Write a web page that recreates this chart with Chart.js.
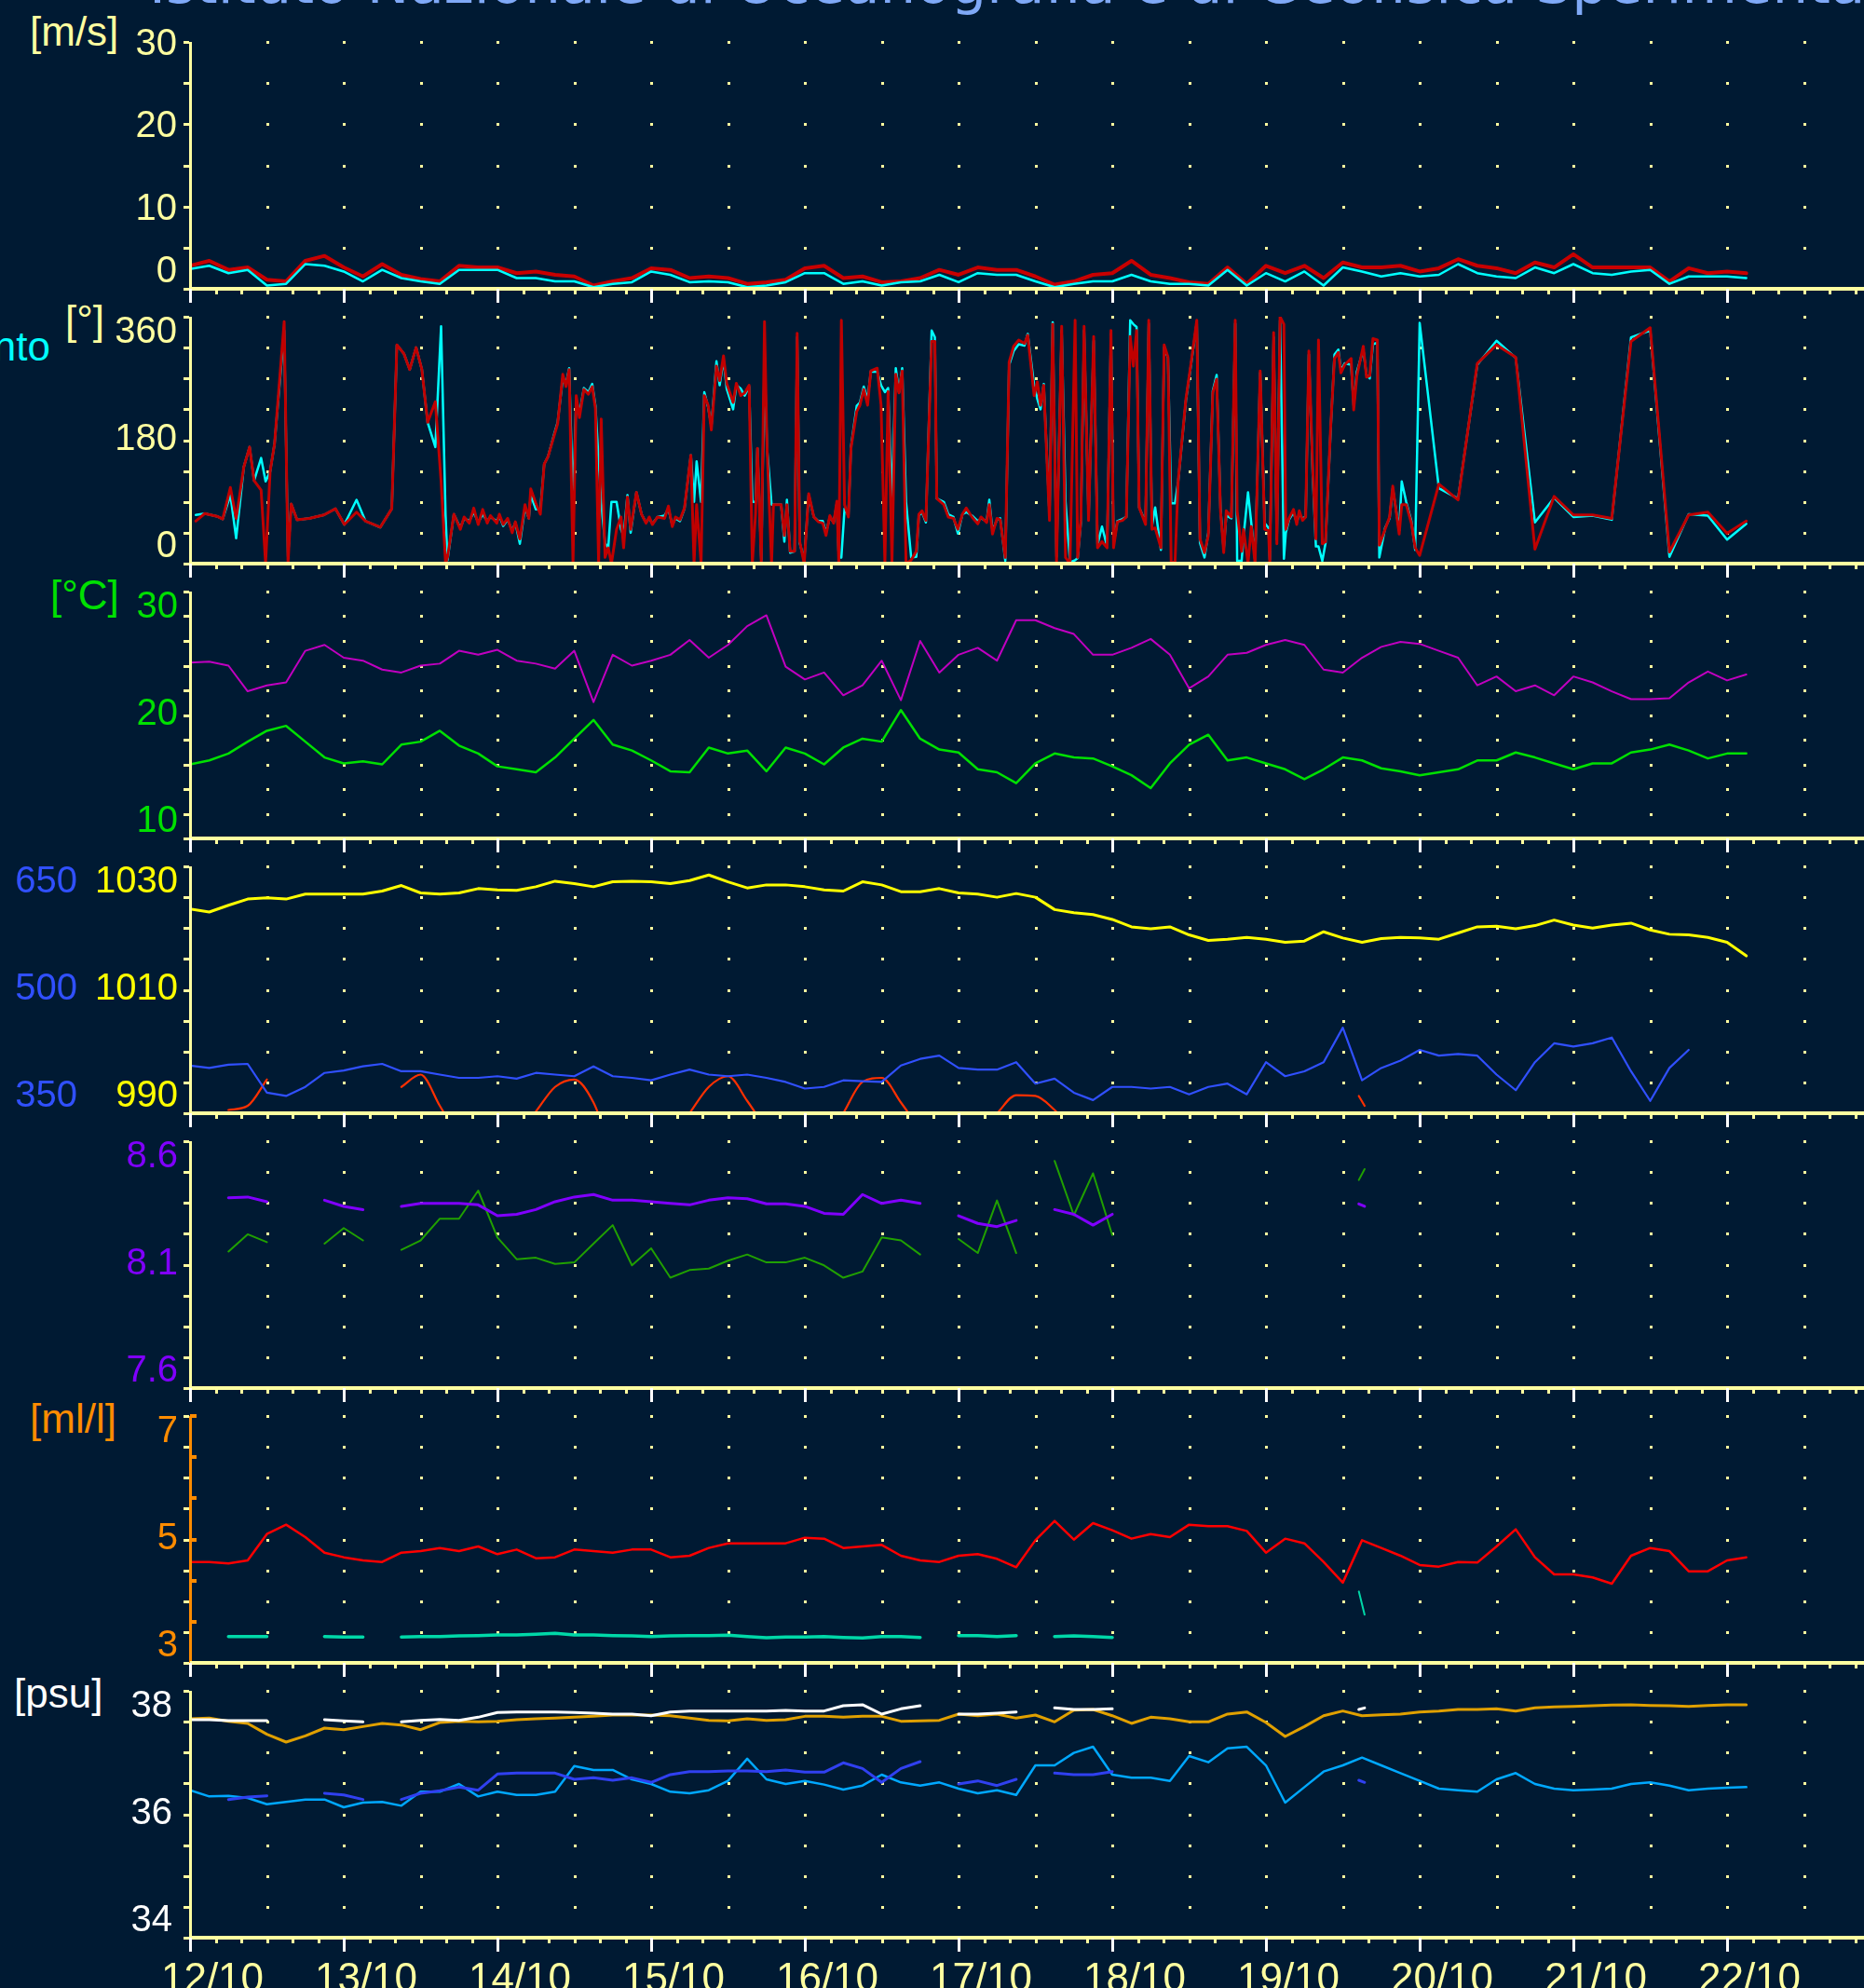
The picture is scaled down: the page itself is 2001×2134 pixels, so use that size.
<!DOCTYPE html>
<html>
<head>
<meta charset="utf-8">
<script src="https://cdn.jsdelivr.net/npm/chart.js@4.4.1/dist/chart.umd.min.js"></script>
<style>
  body { margin: 0; background: #001a33; width: 2001px; height: 2134px; overflow: hidden; position: relative; }
  canvas { position: absolute; left: 0; }
  .t { position: absolute; white-space: nowrap; line-height: 1; font-family: "Liberation Sans", Arial, sans-serif; font-size: 44px; }
  #title { font-family: "DejaVu Sans", sans-serif; font-size: 61px; color: #7fa9f7; left: 160px; top: -49px; }
</style>
</head>
<body>
<div class="t" id="title">Istituto Nazionale di Oceanografia e di Geofisica Sperimentale</div>
<div class="t" style="left:32px;top:12px;color:#ffffa0">[m/s]</div>
<div class="t" style="left:-200px;width:254px;text-align:right;top:350px;color:#00ffff">Vento</div>
<div class="t" style="left:70px;top:322px;color:#ffffa0">[°]</div>
<div class="t" style="left:54px;top:617px;color:#00e000">[°C]</div>
<div class="t" style="left:32px;top:1501px;color:#ff8c00">[ml/l]</div>
<div class="t" style="left:15px;top:1796px;color:#ffffff">[psu]</div>

<canvas id="p1" width="2001" height="320" style="top:15px"></canvas>
<canvas id="p2" width="2001" height="320" style="top:310px"></canvas>
<canvas id="p3" width="2001" height="320" style="top:605px"></canvas>
<canvas id="p4" width="2001" height="320" style="top:900px"></canvas>
<canvas id="p5" width="2001" height="320" style="top:1195px"></canvas>
<canvas id="p6" width="2001" height="320" style="top:1490px"></canvas>
<canvas id="p7" width="2001" height="349" style="top:1785px"></canvas>

<script>
// samples every 3 hours from 12/10 00:00
const STEP_H = 3;
const X_MAX_H = 261.38;   // right edge of the plots, hours
const dayLabels = ['12/10', '13/10', '14/10', '15/10', '16/10', '17/10', '18/10', '19/10', '20/10', '21/10', '22/10'];

// short burst of data on 19/10 afternoon
const burstHours = [182.5, 183.4];

// wind speed [m/s]
const windGust = [
  2.8, 3.4, 2.3, 2.6, 1.1, 0.9, 3.4, 4.0, 2.6, 1.5,
  3.0, 1.7, 1.2, 0.9, 2.8, 2.6, 2.6, 1.9, 2.1, 1.7,
  1.5, 0.4, 0.9, 1.3, 2.5, 2.3, 1.3, 1.5, 1.3, 0.6,
  0.8, 1.1, 2.5, 2.8, 1.3, 1.5, 0.8, 0.9, 1.3, 2.3,
  1.7, 2.6, 2.3, 2.3, 1.5, 0.5, 0.9, 1.7, 1.9, 3.4,
  1.7, 1.3, 0.8, 0.6, 2.6, 0.6, 2.8, 1.9, 2.8, 1.3,
  3.2, 2.6, 2.6, 2.8, 2.1, 2.5, 3.6, 2.8, 2.5, 1.9,
  3.2, 2.6, 4.2, 2.6, 2.6, 2.6, 2.6, 0.9, 2.5, 1.9,
  2.1, 1.9
];
const windMean = [
  2.4, 2.8, 1.9, 2.3, 0.4, 0.6, 3.0, 2.8, 2.1, 0.9,
  2.3, 1.3, 0.9, 0.6, 2.3, 2.3, 2.3, 1.3, 1.3, 0.9,
  0.9, 0.2, 0.6, 0.8, 2.1, 1.7, 0.8, 0.9, 0.8, 0.2,
  0.4, 0.8, 1.9, 1.9, 0.6, 0.9, 0.4, 0.8, 0.9, 1.7,
  0.8, 1.9, 1.7, 1.7, 0.9, 0.2, 0.6, 0.9, 0.9, 1.7,
  0.9, 0.6, 0.6, 0.4, 2.3, 0.4, 1.9, 0.9, 2.1, 0.4,
  2.6, 2.1, 1.5, 1.9, 1.5, 1.7, 3.0, 1.9, 1.5, 1.3,
  2.6, 1.9, 3.0, 1.9, 1.7, 2.1, 2.3, 0.6, 1.5, 1.5,
  1.5, 1.3
];

// wind direction [deg]: readings at their own hours, 3 h samples at the end
const dirHoursHead = [
  0.9, 2.3, 4.2, 5.1, 6.3, 7.2, 8.4, 9.3, 10.0, 11.1,
  11.8, 12.5, 13.2, 14.7, 15.3, 15.8, 16.7, 18.6, 20.9, 22.7,
  24.1, 26.0, 27.4, 29.7, 31.5, 32.3, 33.4, 34.3, 35.3, 36.2,
  37.1, 38.3, 39.2, 39.9
];
const dirGustHead = [
  62, 73, 69, 65, 111, 66, 141, 170, 121, 107,
  0, 134, 175, 353, 0, 87, 64, 66, 71, 80,
  57, 75, 62, 53, 80, 319, 306, 283, 315, 283,
  206, 236, 120, 0
];
const dirMeanHead = [
  71, 73, 69, 65, 100, 37, 141, 170, 121, 154,
  120, 134, 175, 340, 10, 87, 64, 66, 71, 80,
  57, 93, 62, 53, 80, 319, 306, 283, 315, 283,
  206, 170, 346, 71
];
const dirHoursA = [
  40.2, 41.2, 42.2, 42.8, 43.6, 44.3, 45.0, 45.7, 46.4, 46.9,
  47.9, 48.3, 48.9, 49.6, 50.3, 50.8, 51.5, 52.3, 52.9, 53.2,
  54.0, 54.7, 55.3, 55.9, 56.9, 57.4, 58.2, 58.7, 59.2, 59.8,
  60.3, 60.8, 61.5, 62.2, 62.8, 63.3, 63.8, 64.2, 64.8, 65.3,
  65.8, 66.6, 67.3, 67.7, 68.3, 68.8, 69.7, 70.5, 71.2, 71.7,
  72.2, 73.0, 74.1, 74.7, 75.3, 75.8, 76.5, 77.2, 78.2, 78.7,
  79.1, 79.8, 80.3, 80.9, 81.4, 82.2, 82.7, 83.3, 83.8, 84.8,
  85.3, 86.0, 86.6, 87.3, 87.8, 88.3, 88.6, 89.2, 89.7, 90.1,
  90.8, 91.1, 92.3, 92.8, 93.2, 93.7, 94.4, 94.8, 95.2, 95.9,
  96.6, 97.4, 98.1, 98.8, 99.3, 99.9, 100.5, 101.0, 101.3, 101.7,
  102.2, 102.8, 103.2, 104.1, 104.6, 105.2, 105.8, 106.3, 107.3, 107.9,
  108.5, 109.0, 109.6, 110.2, 110.7, 111.2, 111.8, 112.6, 113.4, 113.8,
  114.3, 114.9
];
const dirGustA = [
  9, 72, 50, 68, 59, 81, 57, 79, 59, 70,
  59, 72, 57, 66, 45, 61, 36, 86, 66, 109,
  88, 72, 145, 156, 188, 204, 276, 258, 283, 0,
  245, 213, 254, 247, 258, 226, 0, 211, 9, 23,
  0, 50, 68, 23, 97, 50, 104, 72, 59, 68,
  57, 68, 66, 84, 54, 68, 64, 81, 158, 0,
  86, 0, 245, 231, 195, 288, 267, 303, 263, 235,
  263, 245, 249, 260, 0, 72, 168, 0, 353, 168,
  0, 86, 86, 41, 86, 18, 18, 336, 32, 0,
  102, 68, 61, 59, 41, 70, 59, 91, 0, 355,
  86, 68, 168, 222, 231, 254, 231, 281, 285, 231,
  0, 251, 0, 276, 249, 281, 0, 5, 18, 72,
  77, 63
];
const dirMeanA = [
  5, 72, 52, 66, 62, 75, 60, 72, 62, 68,
  62, 70, 55, 64, 48, 60, 29, 82, 66, 100,
  79, 79, 145, 156, 190, 206, 270, 262, 285, 90,
  240, 218, 256, 250, 262, 230, 150, 90, 30, 23,
  90, 90, 50, 40, 100, 45, 104, 72, 60, 66,
  58, 68, 70, 80, 56, 66, 62, 80, 158, 90,
  149, 90, 250, 228, 200, 295, 260, 298, 255, 225,
  260, 255, 245, 258, 90, 90, 168, 5, 300, 168,
  86, 86, 86, 32, 93, 16, 18, 330, 30, 5,
  100, 68, 62, 62, 45, 68, 60, 88, 9, 9,
  80, 70, 170, 230, 235, 258, 240, 280, 280, 260,
  250, 256, 90, 285, 250, 285, 90, 9, 10, 70,
  75, 60
];
const dirHoursB = [
  115.8, 116.3, 116.6, 117.7, 118.4, 119.2, 119.9, 120.6, 121.2, 122.1,
  123.0, 123.5, 124.4, 124.8, 125.3, 126.0, 126.5, 127.3, 127.9, 128.6,
  129.4, 130.3, 130.8, 131.8, 132.3, 132.8, 133.3, 134.2, 134.7, 135.3,
  136.1, 136.7, 137.4, 138.2, 138.6, 139.1, 139.6, 140.3, 141.1, 141.7,
  142.4, 143.2, 143.8, 144.2, 144.8, 145.6, 146.2, 146.8, 147.3, 147.8,
  148.2, 149.2, 149.7, 150.2, 150.7, 151.6, 152.1, 152.7, 153.2, 153.8,
  154.3, 155.5, 156.3, 157.2, 157.7, 158.4, 159.0, 159.7, 160.3, 160.9,
  161.4, 161.8, 162.6, 163.2, 163.5, 164.2, 164.5, 165.2, 165.7, 166.3,
  167.1, 167.8, 168.4, 168.6, 169.2, 169.7, 170.2, 170.8, 171.1, 171.6,
  172.3, 172.8, 173.2, 173.7, 174.2, 174.7, 175.3, 175.8, 176.2, 176.8,
  177.3, 178.1, 178.7, 179.3, 179.7, 180.3, 181.3, 181.7, 182.2, 183.2,
  183.7, 184.2, 184.7, 185.4, 185.7, 186.6, 187.3, 187.8, 188.8, 189.2,
  189.9, 190.7, 191.3
];
const dirGustB = [
  324, 324, 95, 86, 68, 66, 50, 72, 81, 68,
  58, 68, 60, 86, 43, 66, 64, 9, 294, 317,
  326, 321, 333, 245, 265, 231, 260, 63, 349, 0,
  346, 9, 0, 355, 9, 63, 346, 63, 331, 23,
  32, 23, 340, 23, 61, 63, 68, 331, 288, 340,
  82, 57, 355, 50, 52, 23, 319, 301, 2, 2,
  122, 240, 292, 355, 36, 16, 41, 249, 269, 77,
  16, 77, 68, 355, 77, 18, 50, 0, 54, 0,
  281, 50, 48, 0, 337, 29, 360, 349, 50, 66,
  79, 57, 77, 63, 68, 310, 140, 36, 326, 29,
  32, 199, 299, 308, 278, 290, 299, 224, 274, 317,
  272, 274, 328, 326, 27, 50, 68, 113, 43, 86,
  86, 59, 23
];
const dirMeanB = [
  340, 330, 95, 90, 72, 68, 44, 72, 75, 70,
  62, 66, 62, 93, 48, 64, 66, 4, 290, 310,
  320, 318, 335, 260, 240, 225, 262, 70, 352, 10,
  340, 90, 2, 5, 8, 60, 340, 66, 325, 28,
  54, 25, 335, 28, 62, 65, 68, 355, 349, 345,
  82, 60, 350, 55, 82, 20, 315, 300, 88, 88,
  120, 238, 290, 352, 30, 9, 45, 252, 275, 80,
  20, 70, 66, 350, 4, 4, 40, 104, 60, 5,
  278, 59, 52, 5, 330, 35, 355, 7, 45, 64,
  75, 60, 72, 66, 68, 305, 130, 25, 25, 4,
  30, 195, 305, 312, 282, 292, 290, 230, 280, 312,
  275, 270, 320, 322, 9, 52, 66, 110, 48, 120,
  90, 62, 20
];
const dirTailStart = 192;
const dirTailGust = [12, 116, 93, 292, 319, 301, 21, 98, 71, 71, 66, 324, 344, 17, 71, 75, 44, 62];
const dirTailMean = [351, 110, 95, 290, 325, 300, 60, 96, 68, 70, 64, 330, 340, 10, 72, 70, 35, 58];

// temperatures [°C]
const tempAir = [
  25.3, 25.4, 25.0, 22.4, 23.0, 23.3, 26.5, 27.1, 25.8, 25.5,
  24.6, 24.3, 25.0, 25.2, 26.5, 26.1, 26.6, 25.5, 25.2, 24.7,
  26.5, 21.3, 26.1, 25.0, 25.5, 26.1, 27.6, 25.8, 27.1, 29.0,
  30.1, 24.9, 23.6, 24.3, 22.0, 23.0, 25.5, 21.5, 27.5, 24.3,
  26.1, 26.8, 25.5, 29.6, 29.6, 28.8, 28.2, 26.1, 26.1, 26.8,
  27.7, 26.1, 22.7, 23.9, 26.1, 26.3, 27.1, 27.6, 27.1, 24.6,
  24.3, 25.8, 26.9, 27.4, 27.2, 26.5, 25.8, 23.0, 23.9, 22.4,
  23.0, 22.0, 23.9, 23.3, 22.4, 21.6, 21.6, 21.7, 23.3, 24.4,
  23.5, 24.1
];
const tempSea = [
  15.0, 15.4, 16.1, 17.3, 18.4, 18.9, 17.3, 15.7, 15.1, 15.3,
  15.0, 17.0, 17.3, 18.4, 16.9, 16.1, 14.8, 14.5, 14.2, 15.7,
  17.6, 19.5, 17.0, 16.4, 15.4, 14.3, 14.2, 16.7, 16.1, 16.4,
  14.3, 16.7, 16.1, 15.0, 16.7, 17.6, 17.3, 20.5, 17.6, 16.5,
  16.2, 14.5, 14.2, 13.1, 15.1, 16.1, 15.7, 15.6, 14.8, 13.9,
  12.6, 15.1, 17.0, 18.0, 15.4, 15.7, 15.1, 14.5, 13.5, 14.5,
  15.7, 15.4, 14.6, 14.3, 13.9, 14.2, 14.5, 15.4, 15.4, 16.2,
  15.7, 15.1, 14.5, 15.1, 15.1, 16.2, 16.5, 17.0, 16.4, 15.6,
  16.1, 16.1
];

// pressure [hPa] and the blue / red series on the 350-650 scale
const pressure = [
  1023.1, 1022.6, 1023.7, 1024.7, 1024.9, 1024.7, 1025.5, 1025.5, 1025.5, 1025.5,
  1026.0, 1026.9, 1025.7, 1025.5, 1025.7, 1026.4, 1026.2, 1026.1, 1026.7, 1027.6,
  1027.2, 1026.7, 1027.5, 1027.6, 1027.5, 1027.2, 1027.7, 1028.6, 1027.5, 1026.5,
  1027.0, 1027.0, 1026.7, 1026.2, 1026.0, 1027.5, 1027.0, 1025.9, 1025.9, 1026.4,
  1025.7, 1025.5, 1025.0, 1025.6, 1025.0, 1023.0, 1022.5, 1022.2, 1021.4, 1020.2,
  1019.9, 1020.2, 1018.9, 1018.0, 1018.2, 1018.5, 1018.2, 1017.7, 1017.9, 1019.4,
  1018.4, 1017.7, 1018.3, 1018.5, 1018.4, 1018.2, 1019.2, 1020.2, 1020.3, 1019.9,
  1020.4, 1021.3, 1020.5, 1020.0, 1020.5, 1020.8, 1019.7, 1019.0, 1018.9, 1018.5,
  1017.7, 1015.5
];
const blueSeries = [
  408, 405, 409, 410, 375, 371, 382, 399, 402, 407,
  410, 401, 401, 397, 393, 393, 395, 392, 399, 397,
  395, 407, 395, 393, 390, 397, 403, 397, 395, 397,
  393, 388, 380, 382, 390, 389, 388, 408, 416, 420,
  405, 403, 403, 412, 386, 392, 375, 366, 382, 382,
  380, 382, 373, 382, 386, 373, 412, 395, 401, 412,
  454, 390, 405, 414, 427, 420, 422, 420, 397, 378,
  412, 435, 431, 435, 442, 401, 365, 405, 427
];
const redSeries = [
  null, null, 354, 359, 391, null, null, null, null, null,
  null, 382, 397, 359, 320, null, null, null, 352, 382,
  391, 363, 300, null, null, null, 350, 382, 395, 365,
  330, null, null, null, 350, 388, 393, 363, 330, null,
  null, null, 350, 372, 371, 354, 330
];
const redBurst = [371, 359];

// pH
const phPurple = [
  8.355, null, 8.371, 8.374, 8.355, null, null, 8.361, 8.336, 8.323,
  null, 8.336, 8.348, 8.348, 8.348, 8.342, 8.298, 8.304, 8.323, 8.355,
  8.374, 8.384, 8.361, 8.361, 8.355, 8.348, 8.342, 8.361, 8.371, 8.367,
  8.346, 8.346, 8.336, 8.308, 8.304, 8.384, 8.348, 8.361, 8.348, null,
  8.298, 8.267, 8.254, 8.279, null, 8.323, 8.304, 8.260, 8.304
];
const phGreen = [
  8.160, null, 8.153, 8.223, 8.191, null, null, 8.185, 8.248, 8.198,
  null, 8.160, 8.198, 8.286, 8.286, 8.400, 8.210, 8.122, 8.128, 8.103,
  8.109, 8.185, 8.260, 8.097, 8.166, 8.047, 8.078, 8.084, 8.116, 8.141,
  8.109, 8.109, 8.128, 8.097, 8.047, 8.072, 8.210, 8.198, 8.141, null,
  8.204, 8.147, 8.360, 8.147, null, 8.520, 8.300, 8.470, 8.220
];
const phPurpleBurst = [8.346, 8.336];
const phGreenBurst = [8.443, 8.487];

// dissolved oxygen [ml/l]
const oxyRed = [
  4.635, 4.635, 4.610, 4.660, 5.088, 5.239, 5.038, 4.786, 4.711, 4.660,
  4.635, 4.786, 4.811, 4.862, 4.811, 4.887, 4.761, 4.836, 4.696, 4.711,
  4.836, 4.811, 4.786, 4.836, 4.836, 4.711, 4.736, 4.862, 4.937, 4.937,
  4.937, 4.937, 5.028, 5.013, 4.862, 4.887, 4.912, 4.736, 4.660, 4.635,
  4.736, 4.761, 4.686, 4.550, 4.987, 5.300, 4.997, 5.264, 5.148, 5.013,
  5.088, 5.038, 5.239, 5.214, 5.214, 5.138, 4.786, 5.013, 4.937, 4.635,
  4.300, 4.987, 4.862, 4.736, 4.585, 4.560, 4.635, 4.625, 4.887, 5.164,
  4.711, 4.434, 4.434, 4.384, 4.283, 4.736, 4.862, 4.811, 4.484, 4.484,
  4.660, 4.711
];
const oxyTeal = [
  3.438, null, 3.428, 3.428, 3.428, null, null, 3.428, 3.418, 3.418,
  null, 3.418, 3.428, 3.428, 3.438, 3.443, 3.453, 3.453, 3.463, 3.478,
  3.453, 3.453, 3.443, 3.438, 3.428, 3.438, 3.443, 3.443, 3.448, 3.428,
  3.408, 3.418, 3.418, 3.428, 3.413, 3.403, 3.428, 3.428, 3.413, null,
  3.443, 3.443, 3.428, 3.443, null, 3.428, 3.438, 3.428, 3.413
];
const oxyTealBurst = [4.157, 3.780];

// salinity [psu]
const salGold = [
  37.547, 37.557, 37.507, 37.472, 37.296, 37.170, 37.270, 37.396, 37.371, 37.421,
  37.472, 37.447, 37.371, 37.487, 37.507, 37.497, 37.507, 37.532, 37.547, 37.557,
  37.572, 37.587, 37.608, 37.608, 37.608, 37.597, 37.557, 37.522, 37.512, 37.547,
  37.522, 37.532, 37.587, 37.587, 37.572, 37.587, 37.587, 37.507, 37.512, 37.522,
  37.623, 37.597, 37.623, 37.557, 37.608, 37.497, 37.688, 37.698, 37.597, 37.472,
  37.572, 37.547, 37.497, 37.497, 37.623, 37.658, 37.487, 37.260, 37.421, 37.597,
  37.673, 37.597, 37.613, 37.623, 37.658, 37.673, 37.698, 37.698, 37.708, 37.673,
  37.723, 37.738, 37.748, 37.758, 37.769, 37.774, 37.764, 37.758, 37.748, 37.764,
  37.774, 37.774
];
const salWhite = [
  37.532, 37.532, 37.517, 37.517, 37.517, null, null, 37.532, 37.512, 37.497,
  null, 37.497, 37.522, 37.537, 37.522, 37.572, 37.648, 37.658, 37.658, 37.658,
  37.648, 37.638, 37.623, 37.623, 37.597, 37.658, 37.673, 37.673, 37.673, 37.673,
  37.673, 37.683, 37.673, 37.673, 37.758, 37.774, 37.623, 37.708, 37.758, null,
  37.623, 37.623, 37.638, 37.658, null, 37.723, 37.698, 37.698, 37.708
];
const salBlue = [
  36.390, null, 36.239, 36.279, 36.299, null, null, 36.340, 36.314, 36.239,
  null, 36.239, 36.340, 36.380, 36.440, 36.390, 36.652, 36.667, 36.667, 36.667,
  36.566, 36.591, 36.551, 36.591, 36.516, 36.642, 36.692, 36.692, 36.702, 36.702,
  36.692, 36.717, 36.682, 36.682, 36.833, 36.742, 36.516, 36.742, 36.853, null,
  36.491, 36.541, 36.465, 36.566, null, 36.667, 36.642, 36.642, 36.692
];
const salLight = [
  36.390, 36.289, 36.299, 36.264, 36.163, 36.199, 36.239, 36.239, 36.113, 36.189,
  36.199, 36.138, 36.365, 36.365, 36.491, 36.289, 36.365, 36.314, 36.314, 36.365,
  36.780, 36.717, 36.717, 36.566, 36.491, 36.365, 36.340, 36.390, 36.541, 36.900,
  36.566, 36.491, 36.541, 36.481, 36.400, 36.465, 36.642, 36.516, 36.465, 36.516,
  36.415, 36.340, 36.390, 36.314, 36.792, 36.792, 36.994, 37.094, 36.642, 36.591,
  36.591, 36.541, 36.943, 36.843, 37.069, 37.094, 36.792, 36.189, 36.440, 36.692,
  36.792, 36.918, 36.792, 36.667, 36.541, 36.415, 36.390, 36.365, 36.566, 36.667,
  36.491, 36.415, 36.390, 36.400, 36.415, 36.491, 36.516, 36.465, 36.390, 36.415,
  36.430, 36.440
];
const salWhiteBurst = [37.698, 37.723];
const salBlueBurst = [36.551, 36.516];

const PALE = '#ffffa0';
const LABEL_FONT = '40px "Liberation Sans", Arial, sans-serif';
const DATE_FONT = '44px "Liberation Sans", Arial, sans-serif';

// series -> points on the hour axis
function seq(values, start) {
  return values.map((v, i) => ({ x: start + i * STEP_H, y: v }));
}
function pts(values) {
  return seq(values, 0);
}
function at(hours, values) {
  return values.map((v, i) => ({ x: hours[i], y: v }));
}
function burst(values) {
  return at(burstHours, values);
}
function line(values, color, width, extra) {
  return Object.assign({
    data: values, borderColor: color, borderWidth: width,
    pointRadius: 0, borderJoinStyle: 'round', borderCapStyle: 'round', tension: 0
  }, extra || {});
}

// panel frames: axis, dotted grid, ticks and labels
const FRAMES = {};
const framePlugin = {
  id: 'frame',
  beforeDatasetsDraw(chart) {
    const o = FRAMES[chart.canvas.id];
    const { ctx } = chart;
    const x = chart.scales.x, y = chart.scales.y;
    const n = Math.round((y.max - y.min) / o.step);
    ctx.save();
    ctx.fillStyle = PALE;
    for (let h = 12; h < x.max; h += 12) {
      const px = Math.round(x.getPixelForValue(h));
      for (let i = 1; i <= n; i++) {
        const py = Math.round(y.getPixelForValue(y.min + i * o.step));
        ctx.fillRect(px - 1, py - 1, 3, 3);
      }
    }
    ctx.restore();
  },
  afterDatasetsDraw(chart) {
    const o = FRAMES[chart.canvas.id];
    const { ctx, chartArea: a } = chart;
    const x = chart.scales.x, y = chart.scales.y;
    const n = Math.round((y.max - y.min) / o.step);
    ctx.save();
    // left axis and its ticks
    ctx.fillStyle = o.axisColor || PALE;
    ctx.fillRect(a.left - 1, a.top, 3, a.bottom - a.top);
    ctx.fillStyle = PALE;
    for (let i = 0; i <= n; i++) {
      const py = Math.round(y.getPixelForValue(y.min + i * o.step));
      ctx.fillRect(a.left - 7, py - 1, 6, 3);
    }
    if (o.extraStep) {
      const m = Math.round((y.max - y.min) / o.extraStep);
      ctx.fillStyle = o.axisColor;
      for (let i = 0; i <= m; i++) {
        const py = Math.round(y.getPixelForValue(y.min + i * o.extraStep));
        ctx.fillRect(a.left, py - 2, 7, 4);
      }
    }
    // time axis
    ctx.fillStyle = PALE;
    ctx.fillRect(a.left, a.bottom - 2, a.right - a.left, 4);
    for (let h = 0; h < x.max; h += 4) {
      const px = Math.round(x.getPixelForValue(h));
      if (h % 24 === 0) {
        ctx.fillStyle = '#ffffff';
        ctx.fillRect(px - 1, a.bottom, 3, 15);
      } else {
        ctx.fillStyle = PALE;
        ctx.fillRect(px - 1, a.bottom + 2, 3, 4);
      }
    }
    // value labels: either on their ticks (kept inside the panel) or spread top to bottom
    ctx.font = LABEL_FONT;
    ctx.textAlign = 'right';
    ctx.textBaseline = 'alphabetic';
    const topPad = o.topPad !== undefined ? o.topPad : 14;
    o.labels.forEach(g => {
      const s = chart.scales[g.scale];
      ctx.fillStyle = g.color;
      g.values.forEach((v, i) => {
        let py;
        if (o.spread) {
          const t = a.top + topPad, b = a.bottom - 21;
          py = t + (b - t) * i / (g.values.length - 1);
        } else {
          py = Math.max(a.top + topPad, Math.min(a.bottom - 21, s.getPixelForValue(v)));
        }
        ctx.fillText(v.toFixed(g.digits || 0), g.right, py + 14);
      });
    });
    // date labels under the last panel
    if (o.dates) {
      ctx.font = DATE_FONT;
      ctx.textAlign = 'center';
      ctx.fillStyle = PALE;
      dayLabels.forEach((d, i) => {
        ctx.fillText(d, x.getPixelForValue(i * 24) + 24, a.bottom + 58);
      });
    }
    ctx.restore();
  }
};

function panel(id, datasets, yScales, frame) {
  FRAMES[id] = frame;
  const canvas = document.getElementById(id);
  const scales = {
    x: { type: 'linear', min: 0, max: X_MAX_H, display: false }
  };
  Object.keys(yScales).forEach(k => {
    scales[k] = { type: 'linear', min: yScales[k][0], max: yScales[k][1], display: false };
  });
  return new Chart(canvas, {
    type: 'line',
    data: { datasets: datasets },
    options: {
      responsive: false,
      animation: false,
      devicePixelRatio: 1,
      layout: { padding: { left: 204, right: 0, top: 30, bottom: canvas.height - 295 } },
      scales: scales,
      plugins: { legend: { display: false }, tooltip: { enabled: false } }
    },
    plugins: [framePlugin]
  });
}

// wind speed
panel('p1', [
  line(pts(windMean), '#00ffff', 2.5),
  line(pts(windGust), '#c80000', 4)
], { y: [0, 30] }, {
  step: 5, topPad: -4,
  labels: [{ scale: 'y', values: [30, 20, 10, 0], color: PALE, right: 190 }]
});

// wind direction
const dirGustPts = at(dirHoursHead, dirGustHead).concat(at(dirHoursA, dirGustA), at(dirHoursB, dirGustB), seq(dirTailGust, dirTailStart));
const dirMeanPts = at(dirHoursHead, dirMeanHead).concat(at(dirHoursA, dirMeanA), at(dirHoursB, dirMeanB), seq(dirTailMean, dirTailStart));
panel('p2', [
  line(dirGustPts, '#c00000', 3),
  line(dirMeanPts, '#00ffff', 2.5)
], { y: [0, 360] }, {
  step: 45, spread: true,
  labels: [{ scale: 'y', values: [360, 180, 0], color: PALE, right: 190 }]
});

// temperatures
panel('p3', [
  line(pts(tempAir), '#c000c0', 2),
  line(pts(tempSea), '#00e000', 2.5)
], { y: [7.5, 32.5] }, {
  step: 2.5, spread: true,
  labels: [{ scale: 'y', values: [30, 20, 10], color: '#00e000', right: 191 }]
});

// pressure
panel('p4', [
  line(pts(pressure), '#ffff00', 3),
  line(pts(blueSeries), '#3050ff', 2.2, { yAxisID: 'y2' }),
  line(pts(redSeries), '#ff3000', 2.2, { yAxisID: 'y2', cubicInterpolationMode: 'monotone' }),
  line(burst(redBurst), '#ff3000', 2.2, { yAxisID: 'y2' })
], { y: [990, 1030], y2: [350, 650] }, {
  step: 5, spread: true,
  labels: [
    { scale: 'y', values: [1030, 1010, 990], color: '#ffff00', right: 191 },
    { scale: 'y2', values: [650, 500, 350], color: '#3050ff', right: 83 }
  ]
});

// pH
panel('p5', [
  line(pts(phPurple), '#8000ff', 3),
  line(pts(phGreen), '#20a000', 2),
  line(burst(phPurpleBurst), '#8000ff', 3),
  line(burst(phGreenBurst), '#20a000', 2)
], { y: [7.6, 8.6] }, {
  step: 0.125, spread: true,
  labels: [{ scale: 'y', values: [8.6, 8.1, 7.6], digits: 1, color: '#8000ff', right: 191 }]
});

// oxygen
panel('p6', [
  line(pts(oxyRed), '#ff0000', 2.5),
  line(pts(oxyTeal), '#00d8a8', 3.5),
  line(burst(oxyTealBurst), '#00d8a8', 2)
], { y: [3, 7] }, {
  step: 0.5, extraStep: 4 / 6, axisColor: '#ff8c00', spread: true,
  labels: [{ scale: 'y', values: [7, 5, 3], color: '#ff8c00', right: 191 }]
});

// salinity
panel('p7', [
  line(pts(salWhite), '#ffffff', 3),
  line(pts(salGold), '#e0a000', 3),
  line(pts(salBlue), '#3040f0', 3),
  line(pts(salLight), '#00a8ff', 2.5),
  line(burst(salWhiteBurst), '#ffffff', 3),
  line(burst(salBlueBurst), '#3040f0', 3)
], { y: [34, 38] }, {
  step: 0.5, dates: true, spread: true,
  labels: [{ scale: 'y', values: [38, 36, 34], color: '#ffffff', right: 185 }]
});
</script>
</body>
</html>
